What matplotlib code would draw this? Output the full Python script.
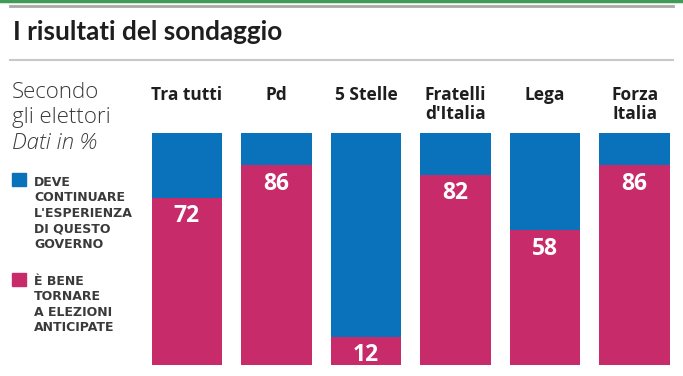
import matplotlib
matplotlib.use("Agg")
import matplotlib.pyplot as plt
from matplotlib.patches import Rectangle
from matplotlib.lines import Line2D

categories = ["Tra tutti", "Pd", "5 Stelle", "Fratelli\nd'Italia", "Lega", "Forza\nItalia"]
elezioni = [72, 86, 12, 82, 58, 86]
governo = [100 - v for v in elezioni]

legend_title = ["Secondo", "gli elettori"]
legend_sub = "Dati in %"
legend_blue = ["DEVE", "CONTINUARE", "L'ESPERIENZA", "DI QUESTO", "GOVERNO"]
legend_pink = ["È BENE", "TORNARE", "A ELEZIONI", "ANTICIPATE"]
title = "I risultati del sondaggio"

BLUE = "#0a72ba"
PINK = "#c82b69"

W, H = 683, 376
fig = plt.figure(figsize=(W / 100, H / 100), dpi=100)
fig.patch.set_facecolor("white")

def fx(px):
    return px / W

def fy(py):
    return 1 - py / H

# decorative lines
fig.add_artist(Line2D([0, 1], [fy(1), fy(1)], color="#3f9b55", lw=2.5))
fig.add_artist(Line2D([fx(10), fx(673)], [fy(6), fy(6)], color="#a9aaa5", lw=2))
fig.add_artist(Line2D([fx(10), fx(673)], [fy(60), fy(60)], color="#c8c8c8", lw=1.5))

fig.text(fx(13), fy(40), title, fontsize=18.8, fontweight="bold", family="Lato",
         color="#1e1e1e", va="baseline", ha="left")

# bars axes
left, right, top, bottom = 151.5, 670, 133, 365
bw = 0.79
ax = fig.add_axes([fx(left), fy(bottom), fx(right - left), (bottom - top) / H])
x = list(range(len(categories)))
ax.bar(x, elezioni, width=bw, color=PINK)
ax.bar(x, governo, bottom=elezioni, width=bw, color=BLUE)
ax.set_xlim(-bw / 2, len(categories) - 1 + bw / 2)
ax.set_ylim(0, 100)
ax.axis("off")

for i, (cat, v) in enumerate(zip(categories, elezioni)):
    ax.text(i, v - 7.9, str(v), ha="center", va="center", color="white",
            fontsize=16.5, fontweight="bold", family="Open Sans")
    ax.text(i, 100 + 20.4, cat, ha="center", va="top", color="#1e1e1e",
            fontsize=12.5, fontweight="bold", family="Open Sans", linespacing=1.1,
            clip_on=False)

# left legend
for txt, yy, st in [(legend_title[0], 92, "normal"), (legend_title[1], 118, "normal"),
                    (legend_sub, 143, "italic")]:
    fig.text(fx(12), fy(yy), txt, fontsize=16, family="Open Sans", style=st,
             color="#3a3a3a", va="center", ha="left", fontweight="light")

fig.add_artist(Rectangle((fx(12), fy(186)), fx(14), 13 / H, color=BLUE))
fig.add_artist(Rectangle((fx(12), fy(286)), fx(14), 13 / H, color=PINK))

def cap_lines(lines, first_center, step):
    for k, line in enumerate(lines):
        yc = first_center + k * step
        fig.text(fx(34), fy(yc + 4.6), line, fontsize=9.0, fontweight="bold",
                 family="DejaVu Sans", color="#3a3a3a", va="baseline", ha="left")

cap_lines(legend_blue, 181, 15.5)
cap_lines(legend_pink, 280.5, 15.4)

fig.savefig("out.png", dpi=100, facecolor="white")
